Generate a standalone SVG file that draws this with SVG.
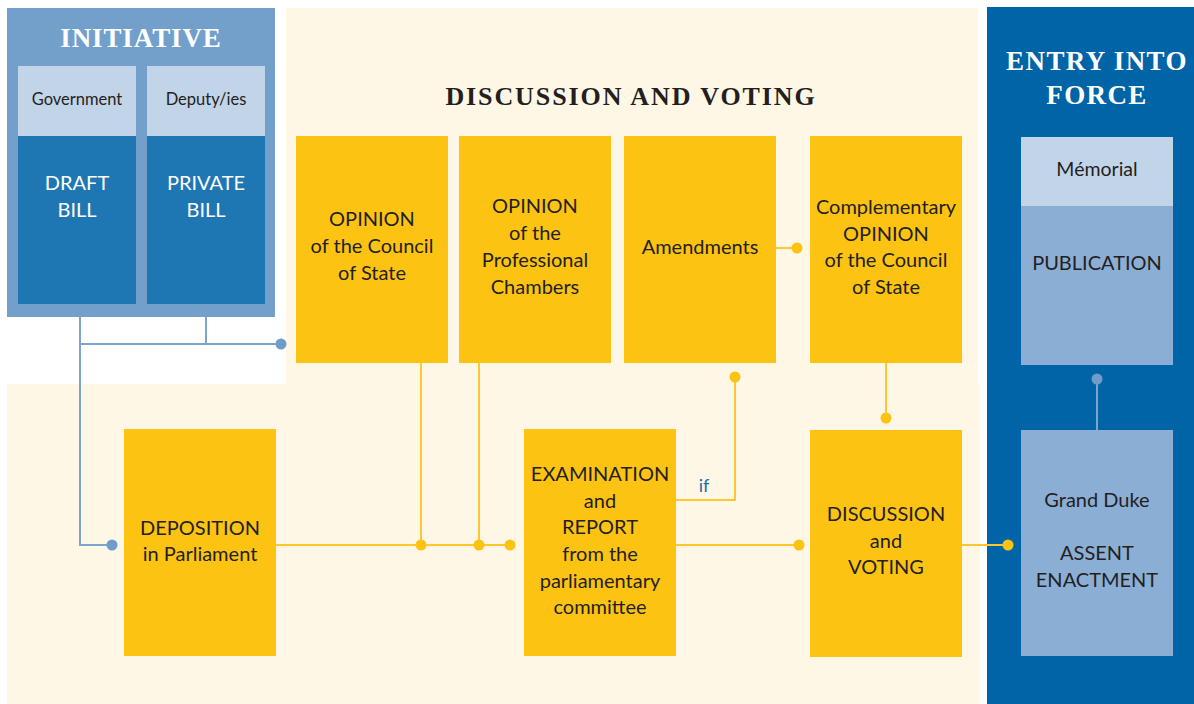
<svg xmlns="http://www.w3.org/2000/svg" width="1194" height="704" viewBox="0 0 1194 704">
<defs>
<style>
.cream{fill:#FEF7E5}
.ybox{fill:#FDC313}
.t{font-family:Lato,"Open Sans","Liberation Sans",sans-serif;font-size:20px;fill:#231F20;text-anchor:middle}
.tw{font-family:Lato,"Open Sans","Liberation Sans",sans-serif;font-size:20px;fill:#FFFFFF;text-anchor:middle}
.ts{font-family:Lato,"Open Sans","Liberation Sans",sans-serif;font-size:16.5px;fill:#231F20;text-anchor:middle}
.title{font-family:"Liberation Serif","Times New Roman",serif;font-weight:bold;font-size:27px;text-anchor:middle}
.yl{stroke:#FDC82D;stroke-width:2;fill:none}
.bl{stroke:#7BA5D0;stroke-width:2;fill:none}
.yd{fill:#FDC313}
.bd{fill:#6E9DCB}
</style>
</defs>
<rect x="0" y="0" width="1194" height="704" fill="#FFFFFF"/>
<g id="backgrounds">
<rect class="cream" x="286" y="8" width="692" height="377"/>
<rect class="cream" x="7" y="384" width="973" height="320"/>
</g>
<g id="initiative">
<rect x="7" y="8" width="268" height="309" fill="#72A0CB"/>
<text class="title" x="141" y="47" fill="#FFFFFF" style="letter-spacing:0.9px">INITIATIVE</text>
</g>
<g id="government">
<rect x="18" y="66" width="118" height="70" fill="#C2D4E8"/>
<rect x="18" y="136" width="118" height="168" fill="#1E77B3"/>
<text class="ts" x="77" y="105">Government</text>
<text class="tw" x="77" y="190">DRAFT</text>
<text class="tw" x="77" y="217">BILL</text>
</g>
<g id="deputy">
<rect x="147" y="66" width="118" height="70" fill="#C2D4E8"/>
<rect x="147" y="136" width="118" height="168" fill="#1E77B3"/>
<text class="ts" x="206" y="105">Deputy/ies</text>
<text class="tw" x="206" y="190">PRIVATE</text>
<text class="tw" x="206" y="217">BILL</text>
</g>
<g id="discussion-title">
<text class="title" x="631" y="105" fill="#231F20" style="font-size:26px;letter-spacing:1.9px">DISCUSSION AND VOTING</text>
</g>
<g id="entry">
<rect x="987" y="7" width="207" height="697" fill="#0064A7"/>
<text class="title" x="1097" y="70" fill="#FFFFFF" style="letter-spacing:1.4px">ENTRY INTO</text>
<text class="title" x="1097" y="104" fill="#FFFFFF" style="letter-spacing:1.4px">FORCE</text>
</g>
<g id="opinion-council">
<rect class="ybox" x="296" y="136" width="152" height="227"/>
<text class="t" x="372" y="226">OPINION</text>
<text class="t" x="372" y="253">of the Council</text>
<text class="t" x="372" y="280">of State</text>
</g>
<g id="opinion-chambers">
<rect class="ybox" x="459" y="136" width="152" height="227"/>
<text class="t" x="535" y="213">OPINION</text>
<text class="t" x="535" y="240">of the</text>
<text class="t" x="535" y="267">Professional</text>
<text class="t" x="535" y="294">Chambers</text>
</g>
<g id="amendments">
<rect class="ybox" x="624" y="136" width="152" height="227"/>
<text class="t" x="700" y="254">Amendments</text>
</g>
<g id="complementary">
<rect class="ybox" x="810" y="136" width="152" height="227"/>
<text class="t" x="886" y="214">Complementary</text>
<text class="t" x="886" y="241">OPINION</text>
<text class="t" x="886" y="267">of the Council</text>
<text class="t" x="886" y="294">of State</text>
</g>
<g id="deposition">
<rect class="ybox" x="124" y="429" width="152" height="227"/>
<text class="t" x="200" y="535">DEPOSITION</text>
<text class="t" x="200" y="561">in Parliament</text>
</g>
<g id="examination">
<rect class="ybox" x="524" y="429" width="152" height="227"/>
<text class="t" x="600" y="481">EXAMINATION</text>
<text class="t" x="600" y="508">and</text>
<text class="t" x="600" y="534">REPORT</text>
<text class="t" x="600" y="561">from the</text>
<text class="t" x="600" y="588">parliamentary</text>
<text class="t" x="600" y="614">committee</text>
</g>
<g id="discussion-voting">
<rect class="ybox" x="810" y="430" width="152" height="227"/>
<text class="t" x="886" y="521">DISCUSSION</text>
<text class="t" x="886" y="548">and</text>
<text class="t" x="886" y="574">VOTING</text>
</g>
<g id="publication">
<rect x="1021" y="137" width="152" height="69" fill="#C2D4E8"/>
<rect x="1021" y="206" width="152" height="159" fill="#8BAED5"/>
<text class="t" x="1097" y="176" style="font-size:19.5px">Mémorial</text>
<text class="t" x="1097" y="270">PUBLICATION</text>
</g>
<g id="grand-duke">
<rect x="1021" y="430" width="152" height="226" fill="#8BAED5"/>
<text class="t" x="1097" y="507">Grand Duke</text>
<text class="t" x="1097" y="560">ASSENT</text>
<text class="t" x="1097" y="587">ENACTMENT</text>
</g>
<g id="connectors">
<path class="bl" d="M80 317 V545 H112"/>
<path class="bl" d="M206 317 V344"/>
<path class="bl" d="M80 344 H281"/>
<circle class="bd" cx="281" cy="344" r="5.5"/>
<circle class="bd" cx="112" cy="545" r="5.5"/>
<path class="yl" d="M276 545 H510"/>
<path class="yl" d="M421 363 V545"/>
<path class="yl" d="M479 363 V545"/>
<circle class="yd" cx="421" cy="545" r="5.5"/>
<circle class="yd" cx="479" cy="545" r="5.5"/>
<circle class="yd" cx="510" cy="545" r="5.5"/>
<path class="yl" d="M735 377 V500 H676"/>
<circle class="yd" cx="735" cy="377" r="5.5"/>
<text x="704" y="492" font-family="Lato,'Open Sans','Liberation Sans',sans-serif" font-size="18" fill="#1F70B0" text-anchor="middle">if</text>
<path class="yl" d="M776 248 H797"/>
<circle class="yd" cx="797" cy="248" r="5.5"/>
<path class="yl" d="M886 363 V418"/>
<circle class="yd" cx="886" cy="418" r="5.5"/>
<path class="yl" d="M676 545 H799"/>
<circle class="yd" cx="799" cy="545" r="5.5"/>
<path class="yl" d="M962 545 H1008"/>
<circle class="yd" cx="1008" cy="545" r="5.5"/>
<path class="bl" d="M1097 379 V430"/>
<circle class="bd" cx="1097" cy="379" r="5.5"/>
</g>
</svg>
